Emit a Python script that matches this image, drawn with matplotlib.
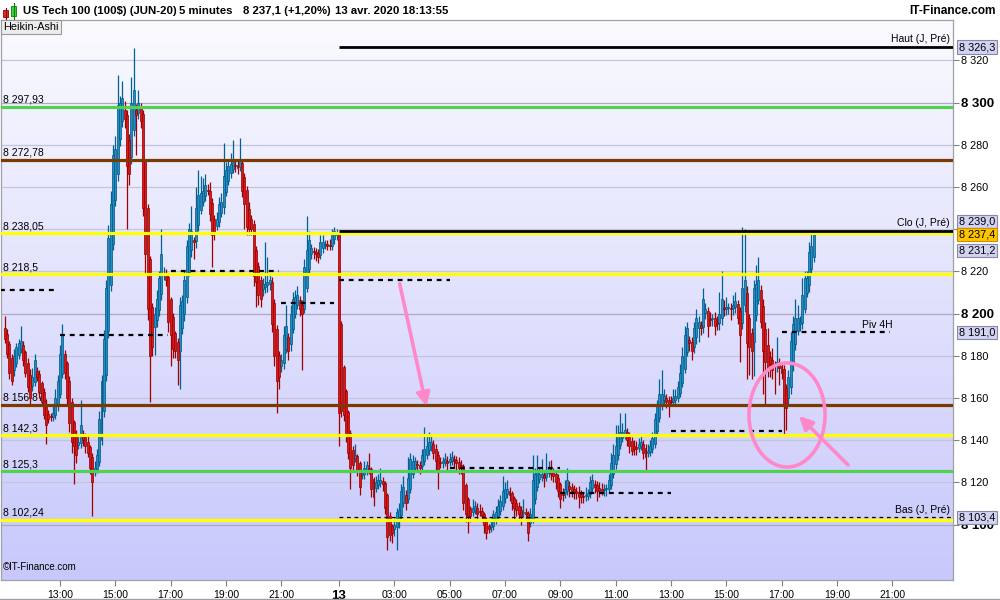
import numpy as np
import matplotlib.pyplot as plt
from matplotlib.patches import Ellipse, FancyArrowPatch, Rectangle

plt.rcParams['font.family'] = ['Liberation Sans', 'DejaVu Sans']

# Heikin-Ashi closes, one per 5-min candle (12 avr. 11:00 -> 13 avr. 18:10)
ha_close = [
    8188, 8181, 8172, 8168, 8180, 8184, 8186, 8187, 8178, 8172,
    8165, 8160, 8170, 8178, 8170, 8163, 8158, 8152, 8147, 8150,
    8151, 8153, 8160, 8168, 8181, 8190, 8172, 8160, 8148, 8139,
    8137, 8133, 8139, 8147, 8140, 8137, 8134, 8127, 8120, 8127,
    8133, 8150, 8168, 8188, 8212, 8236, 8252, 8275, 8278, 8299,
    8300, 8302, 8292, 8270, 8266, 8300, 8306, 8294, 8300, 8291,
    8250, 8228, 8202, 8180, 8184, 8200, 8207, 8217, 8228, 8219,
    8216, 8196, 8190, 8183, 8182, 8178, 8204, 8206, 8216, 8232,
    8240, 8239, 8234, 8250, 8256, 8257, 8258, 8261, 8258, 8247,
    8237, 8238, 8245, 8252, 8253, 8265, 8268, 8270, 8271, 8272,
    8270, 8269, 8273, 8258, 8252, 8241, 8240, 8240, 8218, 8215,
    8209, 8207, 8214, 8214, 8215, 8216, 8195, 8180, 8168, 8170,
    8178, 8190, 8194, 8182, 8200, 8207, 8208, 8209, 8202, 8200,
    8222, 8230, 8235, 8231, 8229, 8228, 8227, 8234, 8234, 8233,
    8232, 8232, 8238, 8239, 8238,
    8153, 8154, 8152, 8143, 8134,
    8127, 8128, 8133, 8126, 8118, 8124, 8127, 8128, 8126, 8117,
    8113, 8120, 8121, 8121, 8119, 8108, 8094, 8095, 8096, 8100,
    8106, 8107, 8116, 8118, 8110, 8122, 8131, 8130, 8130, 8128,
    8127, 8133, 8136, 8137, 8139, 8139, 8134, 8130, 8125, 8129,
    8130, 8131, 8129, 8131, 8132, 8130, 8129, 8127, 8127, 8110,
    8105, 8104, 8104, 8108, 8109, 8105, 8106, 8104, 8100, 8096,
    8098, 8100, 8105, 8106, 8109, 8111, 8116, 8117, 8117, 8114,
    8110, 8108, 8107, 8105, 8104, 8106, 8105, 8096, 8105, 8121,
    8124, 8125, 8124, 8124, 8122, 8126, 8127, 8124, 8123, 8120,
    8116, 8112, 8114, 8117, 8121, 8117, 8116, 8115, 8115, 8113,
    8113, 8113, 8114, 8115, 8120, 8121, 8118, 8116, 8116, 8116,
    8117, 8117, 8121, 8129, 8133, 8137, 8143, 8144, 8144, 8145,
    8140, 8137, 8135, 8136, 8136, 8138, 8139, 8134, 8132, 8135,
    8137, 8141, 8150, 8157, 8162, 8162, 8161, 8158, 8157, 8158,
    8160, 8161, 8165, 8172, 8180, 8190, 8193, 8186, 8182, 8193,
    8198, 8196, 8193, 8207, 8202, 8194, 8197, 8198, 8194, 8195,
    8200, 8207, 8202, 8203, 8203, 8202, 8204, 8206, 8198, 8190,
    8212, 8216, 8186, 8184, 8182, 8212, 8214, 8216, 8196, 8182,
    8177, 8174, 8176, 8173, 8175, 8177, 8174, 8172, 8156, 8155,
    8170, 8187, 8195, 8198, 8198, 8196, 8209, 8217, 8217, 8229,
    8232, 8237,
]
first_open = 8193.0

# wick length above / below the body, in points
wick_up = [
    6, 2, 1, 2, 3, 2, 2, 7, 2, 1,
    2, 3, 4, 3, 2, 2, 1, 2, 2, 2,
    2, 3, 4, 3, 4, 5, 2, 1, 2, 2,
    1, 2, 3, 12, 2, 2, 3, 1, 2, 3,
    3, 4, 3, 4, 4, 6, 6, 5, 6, 14,
    3, 8, 4, 2, 3, 12, 20, 3, 6, 2,
    2, 1, 2, 1, 2, 3, 4, 3, 12, 3,
    2, 2, 1, 2, 1, 2, 4, 3, 4, 3,
    3, 12, 2, 10, 12, 8, 6, 5, 3, 4,
    2, 2, 3, 3, 4, 16, 4, 3, 5, 10,
    2, 3, 10, 2, 2, 2, 3, 2, 2, 2,
    2, 2, 3, 20, 12, 3, 2, 2, 2, 2,
    3, 4, 10, 2, 4, 3, 3, 4, 2, 2,
    4, 16, 4, 2, 2, 2, 2, 3, 3, 2,
    2, 3, 2, 2, 2,
    0, 1, 1, 1, 1,
    1, 2, 5, 1, 1, 2, 3, 2, 7, 1,
    1, 3, 3, 6, 2, 1, 1, 2, 1, 3,
    2, 3, 3, 5, 2, 10, 3, 3, 2, 2,
    2, 3, 10, 5, 5, 3, 2, 2, 2, 3,
    2, 3, 2, 3, 3, 2, 2, 2, 2, 1,
    1, 1, 1, 4, 2, 2, 3, 2, 1, 1,
    1, 3, 2, 3, 3, 3, 7, 3, 4, 2,
    1, 1, 2, 2, 2, 6, 2, 1, 3, 12,
    3, 8, 3, 7, 2, 8, 3, 5, 2, 1,
    2, 1, 2, 4, 6, 2, 2, 2, 2, 3,
    2, 2, 4, 2, 3, 3, 2, 2, 3, 3,
    2, 2, 3, 5, 5, 10, 4, 9, 4, 8,
    2, 2, 2, 3, 3, 3, 3, 2, 2, 3,
    3, 3, 3, 2, 7, 11, 3, 2, 2, 3,
    4, 3, 3, 4, 4, 4, 3, 2, 2, 3,
    4, 3, 2, 5, 3, 2, 3, 2, 3, 3,
    10, 13, 4, 5, 2, 2, 5, 4, 2, 2,
    29, 24, 3, 2, 2, 4, 9, 11, 2, 3,
    3, 8, 3, 6, 2, 12, 3, 2, 2, 2,
    3, 4, 4, 9, 6, 3, 8, 3, 3, 5,
    6, 1,
]
wick_dn = [
    2, 2, 3, 2, 3, 2, 2, 2, 3, 2,
    2, 3, 2, 2, 2, 3, 2, 2, 9, 2,
    2, 2, 2, 2, 2, 2, 3, 3, 4, 5,
    18, 4, 2, 2, 3, 3, 2, 3, 16, 3,
    2, 2, 2, 3, 3, 3, 3, 3, 3, 3,
    3, 3, 4, 30, 5, 3, 3, 19, 3, 3,
    4, 9, 5, 22, 4, 13, 3, 3, 3, 3,
    3, 5, 15, 4, 3, 12, 18, 3, 3, 3,
    2, 3, 8, 3, 3, 2, 2, 2, 2, 3,
    15, 3, 2, 2, 2, 3, 2, 2, 2, 2,
    3, 3, 2, 3, 12, 4, 3, 3, 5, 12,
    5, 4, 3, 3, 3, 3, 4, 5, 15, 6,
    3, 3, 2, 4, 3, 2, 2, 2, 3, 27,
    2, 2, 2, 2, 3, 3, 3, 2, 2, 2,
    2, 2, 2, 2, 2,
    16, 3, 3, 4, 3,
    10, 3, 2, 3, 4, 2, 2, 2, 2, 4,
    4, 2, 2, 2, 3, 3, 6, 3, 5, 3,
    11, 4, 2, 2, 3, 2, 2, 2, 2, 3,
    3, 2, 2, 2, 2, 2, 3, 4, 8, 2,
    2, 2, 3, 2, 2, 3, 3, 3, 3, 3,
    4, 8, 3, 2, 2, 3, 2, 3, 4, 3,
    2, 2, 2, 2, 2, 2, 2, 2, 2, 3,
    3, 6, 3, 3, 4, 2, 3, 4, 2, 2,
    2, 2, 2, 2, 4, 2, 2, 3, 3, 3,
    3, 4, 3, 2, 2, 4, 3, 3, 3, 5,
    3, 3, 2, 2, 2, 2, 3, 5, 3, 2,
    3, 3, 2, 2, 2, 2, 2, 2, 2, 2,
    3, 3, 2, 3, 3, 2, 2, 3, 6, 2,
    2, 2, 2, 2, 2, 2, 2, 3, 6, 2,
    2, 2, 2, 2, 2, 2, 2, 4, 4, 3,
    3, 7, 3, 3, 3, 5, 3, 3, 4, 3,
    3, 3, 3, 3, 3, 5, 3, 3, 3, 13,
    3, 3, 17, 13, 13, 16, 3, 2, 3, 20,
    20, 4, 6, 4, 13, 3, 8, 3, 14, 10,
    3, 3, 3, 3, 2, 3, 3, 2, 2, 3,
    2, 2,
]

# horizontal support / resistance levels
level_values = [8297.93, 8272.78, 8238.05, 8218.5, 8156.87, 8142.3, 8125.3, 8102.24]
level_labels = ["8 297,93", "8 272,78", "8 238,05", "8 218,5",
                "8 156,87", "8 142,3", "8 125,3", "8 102,24"]
level_colors = ["#4fd24f", "#7a3a00", "#ffff00", "#ffff00",
                "#7a3a00", "#ffff00", "#4fd24f", "#ffff00"]

# previous day high / close / low
prev_high, prev_close, prev_low = 8326.3, 8239.0, 8103.4
last_price, last_ha = 8237.4, 8231.2
pivot_4h = 8191.0

# 4H pivot segments: (start candle, end candle, level)
pivot_segments = [(-2, 23, 8211), (24, 71, 8190), (72, 119, 8220), (120, 143, 8205),
                  (145, 193, 8216), (193, 241, 8127), (241, 289, 8115),
                  (289, 337, 8144.5), (337, 384, 8191)]

tick_pos = [24, 48, 72, 96, 120, 145, 169, 193, 217, 241, 265, 289, 313, 337, 361, 385]
tick_lab = ["13:00", "15:00", "17:00", "19:00", "21:00", "13", "03:00", "05:00",
            "07:00", "09:00", "11:00", "13:00", "15:00", "17:00", "19:00", "21:00"]

# ---- Heikin-Ashi geometry
c = np.array(ha_close, dtype=float)
o = np.empty_like(c)
o[0] = first_open
for i in range(1, len(c)):
    o[i] = (o[i - 1] + c[i - 1]) / 2
top = np.maximum(o, c)
bot = np.minimum(o, c)
hi = top + np.array(wick_up)
lo = bot - np.array(wick_dn)
x = np.arange(len(c))
up = c >= o

fig = plt.figure(figsize=(10, 6), dpi=100)
ax = fig.add_axes([0.001, 20 / 600, 0.952, 560 / 600])
xmin, xmax = -1.6, 411.4
ymin, ymax = 8073.7, 8339.1
ax.set_xlim(xmin, xmax)
ax.set_ylim(ymin, ymax)

# background gradient
grad = np.linspace(0, 1, 256).reshape(-1, 1)
top_col = np.array([250, 250, 255]) / 255
bot_col = np.array([200, 200, 252]) / 255
img = top_col + grad * (bot_col - top_col)
ax.imshow(img.reshape(256, 1, 3), extent=[xmin, xmax, ymin, ymax],
          aspect='auto', origin='upper', zorder=0)

# grid
for v in range(8100, 8340, 20):
    ax.axhline(v, color='#a9a9c4' if v % 100 == 0 else '#c4c4dc', lw=0.9, zorder=1)

# level labels (under the candles)
for v, lab in zip(level_values, level_labels):
    ax.text(-0.8, v + 1.0, lab, fontsize=7.5, va='bottom', ha='left', zorder=2)

# candles
blue_body, blue_edge = '#1f8fcc', '#00567f'
red_body, red_edge = '#e21414', '#8e0000'
wcol = np.where(up, '#00628f', '#a00000')
ax.vlines(x, lo, hi, colors=wcol, lw=0.9, zorder=3)
h = np.maximum(top - bot, 0.6)
ax.bar(x[up], h[up], bottom=bot[up], width=0.86, color=blue_body,
       edgecolor=blue_edge, lw=0.5, zorder=4)
ax.bar(x[~up], h[~up], bottom=bot[~up], width=0.86, color=red_body,
       edgecolor=red_edge, lw=0.5, zorder=4)

# levels on top of candles
for v, col in zip(level_values, level_colors):
    ax.axhline(v, color=col, lw=2.3, zorder=5)
ax.hlines([prev_high, prev_close], 145, xmax, color='black', lw=2.0, zorder=6)
ax.hlines(prev_low, 145, xmax, color='black', lw=0.9, linestyles=(0, (3, 3)), zorder=6)
for s, e, v in pivot_segments:
    ax.hlines(v, s, e, color='black', lw=1.6, linestyles=(0, (2.2, 2.2)), zorder=6)

ax.text(410, prev_high + 1.3, "Haut (J, Pré)", fontsize=7.5, ha='right', va='bottom', zorder=7)
ax.text(410, prev_close + 1.3, "Clo (J, Pré)", fontsize=7.5, ha='right', va='bottom', zorder=7)
ax.text(410, prev_low + 1.3, "Bas (J, Pré)", fontsize=7.5, ha='right', va='bottom', zorder=7)
ax.text(372, pivot_4h + 1.0, "Piv 4H", fontsize=7.5, ha='left', va='bottom', zorder=7)

# pink annotations
pink = '#ff88c8'
ax.add_patch(FancyArrowPatch((171.1, 8215.4), (183.2, 8154.7), arrowstyle='-|>',
                             mutation_scale=20, lw=2.6, color=pink, zorder=8))
ax.add_patch(FancyArrowPatch((366.7, 8127.3), (343.7, 8152.4), arrowstyle='-|>',
                             mutation_scale=20, lw=2.6, color=pink, zorder=8))
ax.add_patch(Ellipse((339.4, 8151.9), 33, 49.3, fill=False, ec=pink, lw=2.6, zorder=8))

# axes styling
for sp in ax.spines.values():
    sp.set_color('#a0a0a8')
    sp.set_linewidth(0.9)
ax.yaxis.tick_right()
yt = list(range(8100, 8340, 20))
ax.set_yticks(yt)
ax.set_yticklabels([f"8 {v - 8000:03d}" for v in yt], fontsize=7.8)
for t, v in zip(ax.get_yticklabels(), yt):
    if v % 100 == 0:
        t.set_fontweight('bold')
        t.set_fontsize(9.5)
ax.tick_params(axis='y', length=4, color='#808080', pad=2)
ax.set_xticks(tick_pos)
ax.set_xticklabels(tick_lab, fontsize=7.5)
for t, lab in zip(ax.get_xticklabels(), tick_lab):
    if lab == "13":
        t.set_fontweight('bold')
        t.set_fontsize(9.5)
ax.tick_params(axis='x', length=4, color='#808080', pad=3)

# right-axis price boxes
def price_box(ypos, text, face, edge='#8888a8'):
    ax.text(1.006, ypos, text, transform=ax.get_yaxis_transform(), fontsize=7.8,
            va='center', ha='left', clip_on=False, zorder=10,
            bbox=dict(boxstyle='square,pad=0.15', fc=face, ec=edge, lw=0.8))

price_box(prev_high, "8 326,3", '#d2d2f2')
price_box(8243.6, "8 239,0", '#d2d2f2')
price_box(last_price, "8 237,4", '#ffc400', '#c89000')
price_box(last_ha - 1.3, "8 231,2", '#d2d2f2')
price_box(pivot_4h, "8 191,0", '#d2d2f2')
price_box(prev_low, "8 103,4", '#d2d2f2')

ax.text(-0.9, 8074.8 + 2.5, "©IT-Finance.com", fontsize=7, ha='left', va='bottom', zorder=7)

# header
hy = 1 - 11 / 600
fig.text(23 / 1000, hy, "US Tech 100 (100$) (JUN-20)", fontsize=8.2, weight='bold', va='center')
fig.text(179 / 1000, hy, "5 minutes", fontsize=8.2, weight='bold', va='center')
fig.text(243 / 1000, hy, "8 237,1 (+1,20%)", fontsize=8.2, weight='bold', va='center')
fig.text(335 / 1000, hy, "13 avr. 2020 18:13:55", fontsize=8.2, weight='bold', va='center')
fig.text(996 / 1000, hy, "IT-Finance.com", fontsize=8.6, weight='bold',
         va='center', ha='right')
fig.text(3 / 1000, 1 - 27 / 600, "Heikin-Ashi", fontsize=7.8, va='center', ha='left',
         bbox=dict(boxstyle='square,pad=0.2', fc='#ececec', ec='#9a9a9a', lw=0.8))

# header icon: two small candles
fig.add_artist(Rectangle((3 / 1000, 1 - 17 / 600), 5 / 1000, 7 / 600,
                         transform=fig.transFigure, fc='#e23030', ec='#8e0000', lw=0.6))
fig.add_artist(Rectangle((11 / 1000, 1 - 16 / 600), 5 / 1000, 10 / 600,
                         transform=fig.transFigure, fc='#40d040', ec='#008000', lw=0.6))
fig.add_artist(plt.Line2D([13.5 / 1000, 13.5 / 1000], [1 - 19 / 600, 1 - 3 / 600],
                          transform=fig.transFigure, color='#008000', lw=0.8))
fig.add_artist(plt.Line2D([5.5 / 1000, 5.5 / 1000], [1 - 19 / 600, 1 - 8 / 600],
                          transform=fig.transFigure, color='#8e0000', lw=0.8))
fig.add_artist(plt.Line2D([0, 1], [1 / 600, 1 / 600], transform=fig.transFigure,
                          color='#a0a0a8', lw=1))

fig.savefig("out.png", dpi=100)
